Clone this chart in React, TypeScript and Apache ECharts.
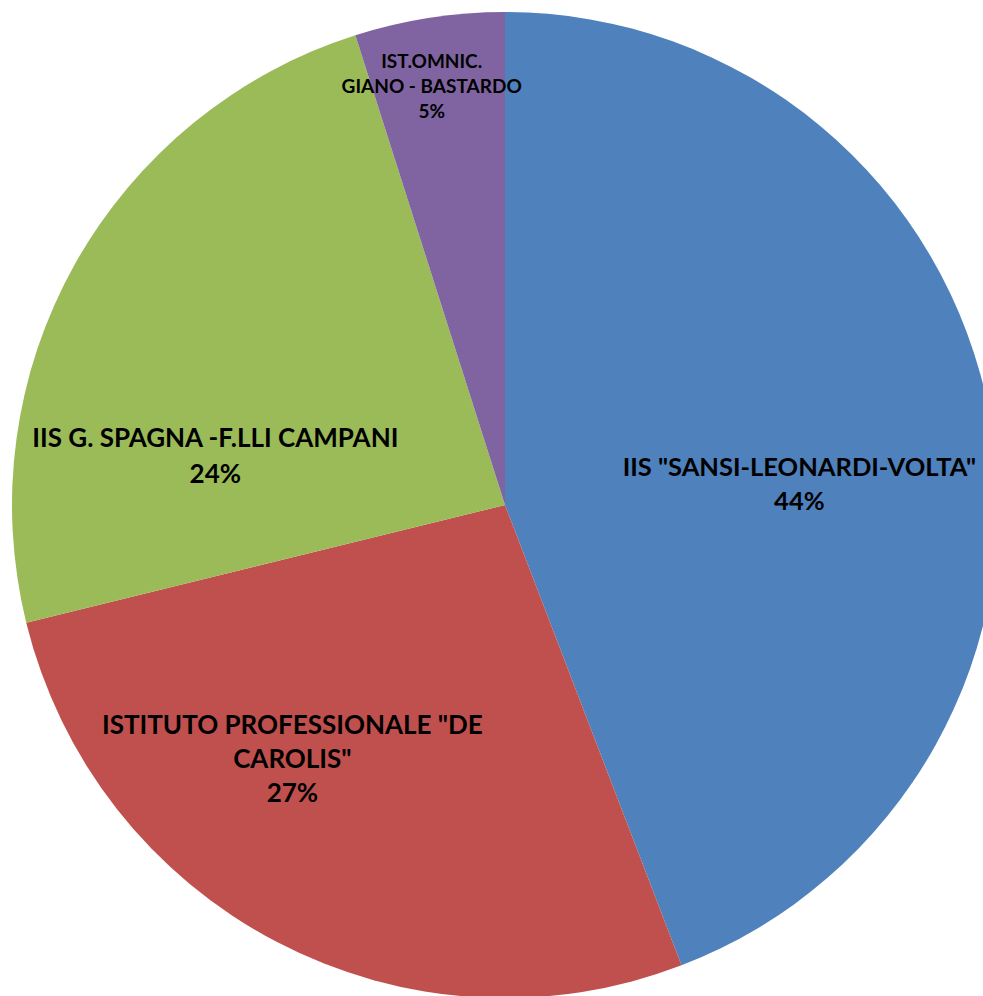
import React, { useEffect, useRef } from "react";
import * as echarts from "echarts";

const categories = [
  'IIS "SANSI-LEONARDI-VOLTA"',
  'ISTITUTO PROFESSIONALE "DE CAROLIS"',
  "IIS G. SPAGNA -F.LLI CAMPANI",
  "IST.OMNIC. GIANO - BASTARDO",
];
const labelTexts = [
  'IIS "SANSI-LEONARDI-VOLTA"',
  'ISTITUTO PROFESSIONALE "DE\nCAROLIS"',
  "IIS G. SPAGNA -F.LLI CAMPANI",
  "IST.OMNIC.\nGIANO - BASTARDO",
];
const values = [72, 44, 39, 8];
const colors = ["#4F81BD", "#C0504D", "#9BBB59", "#8064A2"];
const labelOffsets: [number, number][] = [
  [49, 23],
  [-97, 32],
  [-72, 72],
  [-35, -173],
];
const labelSizes = [25.5, 26, 26, 19];
const labelLineHeights = [34, 34, 36, 25];

export default function App() {
  const ref = useRef<HTMLDivElement>(null);
  useEffect(() => {
    if (!ref.current) return;
    const chart = echarts.init(ref.current, null, { renderer: "svg" });
    chart.setOption({
      animation: false,
      backgroundColor: "#ffffff",
      series: [
        {
          type: "pie",
          center: [505, 505],
          radius: 493,
          startAngle: 90,
          clockwise: true,
          percentPrecision: 0,
          avoidLabelOverlap: false,
          itemStyle: { borderWidth: 0 },
          labelLine: { show: false },
          data: categories.map((name, i) => ({
            name,
            value: values[i],
            itemStyle: { color: colors[i] },
            label: {
              show: true,
              position: "inside",
              offset: labelOffsets[i],
              fontSize: labelSizes[i],
              lineHeight: labelLineHeights[i],
              fontWeight: "bold",
              fontFamily: "Lato, 'Open Sans', sans-serif",
              color: "#000000",
              align: "center",
              formatter: (p: any) => `${labelTexts[p.dataIndex]}\n${Math.round(p.percent)}%`,
            },
          })),
        },
      ],
    });
    return () => chart.dispose();
  }, []);
  return (
    <div
      ref={ref}
      style={{ position: "absolute", left: 0, top: 0, width: 983, height: 996 }}
    />
  );
}
